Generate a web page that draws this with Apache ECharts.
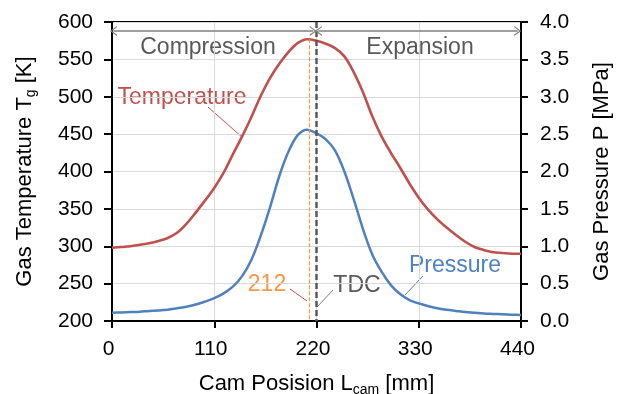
<!DOCTYPE html>
<html>
<head>
<meta charset="utf-8">
<script src="https://cdn.jsdelivr.net/npm/echarts@6/dist/echarts.min.js"></script>
<style>
html,body{margin:0;padding:0;background:#fff;}
#chart{width:626px;height:394px;}
</style>
</head>
<body>
<div id="chart"></div>
<script>
// Cam position [mm]
const camPos = [0,10,20,30,40,50,60,70,80,90,100,110,120,130,140,150,160,170,180,190,200,210,220,230,240,250,260,270,280,290,300,310,320,330,340,350,360,370,380,390,400,410,420,430,440];
// Gas temperature [K]
const temperature = [298,299,300,302,304,307,311,318,330,345,361,378,398,423,447,473,501,525,544,560,572,577,575,571,565,554,533,506,474,447,425,405,384,365,349,336,325,315,306,299,295,292,291,290,290];
// Gas pressure [MPa]
const pressure = [0.11,0.115,0.12,0.125,0.135,0.14,0.15,0.17,0.19,0.22,0.26,0.305,0.37,0.46,0.60,0.82,1.14,1.52,1.94,2.27,2.49,2.56,2.51,2.43,2.28,2.00,1.63,1.23,0.89,0.66,0.48,0.36,0.28,0.235,0.20,0.17,0.15,0.135,0.12,0.11,0.10,0.095,0.09,0.085,0.08];
// Axis ticks
const xTicks = {min: 0, max: 440, interval: 110};
const tempTicks = {min: 200, max: 600, interval: 50};
const presTicks = {min: 0, max: 4, interval: 0.5};
// Annotation values
const tdcPos = 220;
const peakPos = 212;
const peakTemp = 577;
const arrowLevel = 588;

const FONT = '"Liberation Sans", Arial, sans-serif';
const tempData = camPos.map((x, i) => [x, temperature[i]]);
const presData = camPos.map((x, i) => [x, pressure[i]]);

const arrowHead = 'path://M0,10 L5,0 L10,10 L8.6,10 L5,2.8 L1.4,10 Z';
const subRich = {sub: {fontSize: 14, fontFamily: FONT, color: '#000', verticalAlign: 'bottom', padding: [12, 0, 0, 0]}};

const chart = echarts.init(document.getElementById('chart'), null, {renderer: 'canvas'});
chart.setOption({
  animation: false,
  backgroundColor: '#fff',
  grid: {left: 112, right: 105, top: 22, bottom: 73, containLabel: false, outerBoundsMode: 'none',
         show: true, borderColor: '#000', borderWidth: 2, backgroundColor: 'transparent'},
  xAxis: {
    type: 'value', min: xTicks.min, max: xTicks.max, interval: xTicks.interval,
    name: 'Cam Posision L{sub|cam} [mm]', nameLocation: 'middle', nameGap: 50,
    nameTextStyle: {fontSize: 22, fontFamily: FONT, color: '#000', rich: subRich},
    axisLine: {show: true, onZero: false, lineStyle: {color: '#000', width: 2}},
    axisTick: {show: true, length: 7, lineStyle: {color: '#000', width: 2}},
    axisLabel: {fontSize: 21, fontFamily: FONT, color: '#000', margin: 18, padding: [0, 7, 0, 0]},
    splitLine: {show: true, lineStyle: {color: '#D9D9D9', width: 1}}
  },
  yAxis: [{
    type: 'value', min: tempTicks.min, max: tempTicks.max, interval: tempTicks.interval,
    name: 'Gas Temperature T{sub|g} [K]', nameLocation: 'middle', nameGap: 74, nameRotate: 90,
    nameTextStyle: {fontSize: 22, fontFamily: FONT, color: '#000', rich: subRich},
    axisLine: {show: true, onZero: false, lineStyle: {color: '#000', width: 2}},
    axisTick: {show: true, length: 8, lineStyle: {color: '#000', width: 2}},
    axisLabel: {fontSize: 21, fontFamily: FONT, color: '#000', margin: 19},
    splitLine: {show: true, lineStyle: {color: '#D9D9D9', width: 1}}
  }, {
    type: 'value', position: 'right', min: presTicks.min, max: presTicks.max, interval: presTicks.interval,
    name: 'Gas Pressure P [MPa]', nameLocation: 'middle', nameGap: 70, nameRotate: 90,
    nameTextStyle: {fontSize: 22, fontFamily: FONT, color: '#000'},
    axisLine: {show: true, onZero: false, lineStyle: {color: '#000', width: 2}},
    axisTick: {show: true, length: 7, lineStyle: {color: '#000', width: 2}},
    axisLabel: {fontSize: 21, fontFamily: FONT, color: '#000', margin: 19, formatter: v => v.toFixed(1)},
    splitLine: {show: false}
  }],
  series: [{
    name: 'Temperature', type: 'line', yAxisIndex: 0, data: tempData,
    showSymbol: false, smooth: 0.35, z: 3,
    lineStyle: {color: '#C0504D', width: 2.6}, itemStyle: {color: '#C0504D'},
    markLine: {
      silent: true, animation: false, symbol: ['none', 'none'], z: 4,
      label: {show: false},
      data: [
        [{coord: [peakPos, peakTemp], lineStyle: {color: '#F79646', width: 1.2, type: [4, 2]}}, {coord: [peakPos, tempTicks.min]}],
        [{coord: [tdcPos, tempTicks.max], lineStyle: {color: '#595959', width: 2.5, type: [6, 3]}}, {coord: [tdcPos, tempTicks.min]}],
        [{coord: [1.5, arrowLevel], symbol: arrowHead, symbolSize: [10, 7], lineStyle: {color: '#7F7F7F', width: 1.5, type: 'solid'}},
         {coord: [216.5, arrowLevel], symbol: arrowHead, symbolSize: [10, 7]}],
        [{coord: [222, arrowLevel], symbol: arrowHead, symbolSize: [10, 7], lineStyle: {color: '#7F7F7F', width: 1.5, type: 'solid'}},
         {coord: [436.5, arrowLevel], symbol: arrowHead, symbolSize: [10, 7]}]
      ]
    }
  }, {
    name: 'Pressure', type: 'line', yAxisIndex: 1, data: presData,
    showSymbol: false, smooth: 0.35, z: 3,
    lineStyle: {color: '#4F81BD', width: 2.5}, itemStyle: {color: '#4F81BD'}
  }],
  graphic: [
    {type: 'text', style: {text: 'Compression', x: 208, y: 48, fontSize: 23, fontFamily: FONT, fill: '#595959', align: 'center', verticalAlign: 'middle'}},
    {type: 'text', style: {text: 'Expansion', x: 420, y: 48, fontSize: 23, fontFamily: FONT, fill: '#595959', align: 'center', verticalAlign: 'middle'}},
    {type: 'text', style: {text: 'Temperature', x: 182, y: 98, fontSize: 23, fontFamily: FONT, fill: '#C0504D', align: 'center', verticalAlign: 'middle'}},
    {type: 'line', shape: {x1: 208, y1: 107, x2: 243, y2: 138}, style: {stroke: '#C0504D', lineWidth: 1}},
    {type: 'text', style: {text: '212', x: 267, y: 285, fontSize: 23, fontFamily: FONT, fill: '#F79646', align: 'center', verticalAlign: 'middle'}},
    {type: 'line', shape: {x1: 290, y1: 289, x2: 307, y2: 301}, style: {stroke: '#D0504D', lineWidth: 1}},
    {type: 'text', style: {text: 'TDC', x: 357, y: 286, fontSize: 23, fontFamily: FONT, fill: '#595959', align: 'center', verticalAlign: 'middle'}},
    {type: 'line', shape: {x1: 333, y1: 290, x2: 317, y2: 307}, style: {stroke: '#7F7F7F', lineWidth: 1}},
    {type: 'text', style: {text: 'Pressure', x: 455, y: 266, fontSize: 23, fontFamily: FONT, fill: '#4F81BD', align: 'center', verticalAlign: 'middle'}},
    {type: 'line', shape: {x1: 423, y1: 276, x2: 405, y2: 295}, style: {stroke: '#4F81BD', lineWidth: 1}}
  ]
});
</script>
</body>
</html>
